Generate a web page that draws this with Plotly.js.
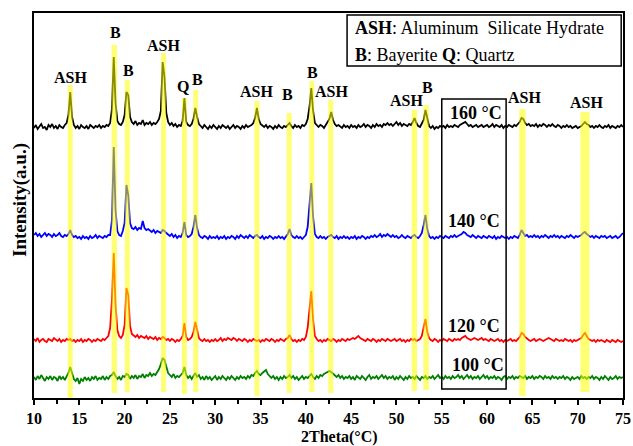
<!DOCTYPE html>
<html>
<head>
<meta charset="utf-8">
<script src="https://cdn.plot.ly/plotly-3.0.1.min.js"></script>
<style>
  html, body { margin: 0; padding: 0; background: #fff; }
  #chart { width: 633px; height: 446px; }
</style>
</head>
<body>
<div id="chart"></div>
<script>
// XRD scans of the hydrothermal products, 2θ from 10° to 75° in 0.2° steps
const scanStart = 10;
const scanStep = 0.2;

const samples = ['160 °C', '140 °C', '120 °C', '100 °C'];
const sampleColors = ['#000000', '#0000ff', '#ff0000', '#008000'];

// Intensity (a.u.) of each scan, one row per 5°
const int160 = [
  9,12,8,11,13, 9,10,7,12,10, 13,9,11,8,12, 10,9,12,14,22, 45,20,12,9,11,
  8,12,10,9,11, 8,12,10,9,11, 10,12,9,11,10, 12,11,14,28,80, 34,16,13,12,15,
  22,45,42,20,15, 13,16,12,14,13, 17,12,14,13,15, 12,14,13,15,18, 26,75,60,24,15,
  12,14,11,13,10, 12,11,16,39,15, 12,11,13,18,29, 20,13,11,9,12, 10,8,11,9,12,
  10,8,11,9,12, 10,9,11,8,10, 12,9,11,10,8, 11,9,12,10,11, 12,14,19,29,18,
  13,11,10,12,9, 11,10,8,11,9, 12,10,9,11,10, 12,14,11,9,12, 10,11,9,12,11,
  13,18,30,49,26, 14,12,10,12,11, 9,12,14,18,25, 17,13,11,12,10, 9,12,10,11,9,
  12,10,11,9,12, 10,11,13,10,12, 11,9,12,10,13, 11,12,10,13,12, 14,12,13,11,13,
  15,12,14,11,13, 12,11,13,12,15, 19,14,11,10,13, 17,27,18,11,9, 11,8,10,9,11,
  10,11,9,12,10, 11,10,12,11,10, 12,13,14,15,13, 11,12,10,11,12, 10,11,12,10,11,
  12,10,11,13,10, 12,11,10,12,9, 11,10,12,11,10, 12,11,13,15,19, 18,14,12,13,11,
  12,11,13,10,12, 11,13,12,10,12, 11,13,11,10,12, 11,9,11,10,12, 10,11,9,10,11,
  9,10,11,13,15, 13,12,10,11,9, 11,10,12,10,9, 11,10,12,9,11, 10,9,11,10,12,
  10
];
const int140 = [
  10,12,9,11,8, 10,12,9,11,10, 8,11,9,10,12, 9,8,10,9,11, 15,10,8,9,7,
  8,6,9,7,8, 6,9,7,8,10, 7,9,8,7,9, 8,10,10,25,98, 35,14,10,9,14,
  22,60,50,22,17, 16,18,15,17,16, 24,17,15,16,14, 13,15,12,14,13, 12,15,14,12,10,
  9,11,8,10,7, 9,8,12,23,10, 8,9,11,18,30, 17,10,8,7,9, 8,6,9,7,8,
  7,9,6,8,7, 9,6,8,7,9, 8,6,9,7,10, 8,7,9,7,10, 8,7,9,10,8,
  7,9,6,8,7, 9,8,6,8,7, 9,7,8,6,8, 11,16,10,8,7, 9,7,8,6,8,
  10,18,40,62,28, 11,8,7,9,7, 8,6,8,9,10, 8,7,9,6,8, 7,9,7,8,6,
  8,7,9,6,8, 7,9,8,6,8, 7,9,8,10,8, 9,11,8,10,9, 11,9,8,10,8,
  9,7,8,10,8, 7,9,8,7,9, 10,8,7,9,12, 20,30,16,9,7, 8,6,8,7,9,
  8,7,9,8,7, 9,8,10,8,9, 10,11,13,12,10, 9,8,10,8,7, 9,8,7,9,8,
  7,9,8,7,9, 6,8,7,9,8, 7,8,6,8,7, 9,8,7,10,15, 12,9,10,8,9,
  8,10,8,9,7, 9,8,10,8,7, 9,8,10,8,9, 7,9,8,7,9, 8,10,8,7,9,
  8,9,10,12,13, 11,9,8,9,7, 9,8,7,9,8, 9,7,8,9,7, 8,9,7,8,10,
  12
];
const int120 = [
  11,9,12,8,10, 11,9,8,11,10, 9,12,10,9,11, 8,10,9,11,10, 11,9,10,8,10,
  9,11,8,10,9, 11,10,8,10,9, 11,10,9,11,10, 12,14,22,50,97, 45,20,14,12,15,
  25,62,55,24,16, 14,13,15,12,14, 13,12,14,11,13, 12,11,13,10,12, 11,13,12,10,11,
  9,11,10,8,10, 9,11,14,27,13, 10,11,13,18,28, 19,12,10,9,11, 9,10,8,10,9,
  11,9,10,12,9, 11,10,12,11,10, 12,11,9,11,10, 9,11,10,8,10, 9,11,10,9,10,
  8,10,9,11,10, 9,11,10,8,10, 9,11,10,9,11, 12,15,11,9,10, 8,10,9,11,10,
  13,22,42,59,30, 14,11,9,10,8, 10,9,11,10,9, 11,10,8,10,9, 11,10,9,11,10,
  11,12,11,13,14, 12,11,10,9,11, 10,9,11,10,8, 10,9,11,10,9, 11,10,9,10,11,
  9,10,11,9,10, 8,10,9,11,10, 11,9,10,11,14, 22,31,18,12,10, 9,11,10,8,10,
  9,11,10,9,11, 10,9,11,10,11, 10,12,13,14,12, 11,10,11,12,11, 10,11,12,10,11,
  10,9,11,10,9, 10,11,9,10,8, 10,9,10,11,9, 10,9,11,13,17, 16,13,11,10,9,
  10,11,9,10,11, 10,9,10,11,12, 11,10,9,11,10, 9,10,9,11,10, 9,10,8,10,9,
  10,11,12,15,17, 14,11,10,9,10, 8,10,9,10,9, 8,10,9,8,10, 9,8,10,9,8,
  9
];
const int100 = [
  11,8,12,9,13, 10,7,11,9,12, 8,11,10,7,12, 9,11,8,12,15, 21,14,9,7,10,
  4,9,7,11,8, 10,7,11,9,12, 8,10,9,12,8, 11,9,12,13,16, 12,9,11,8,12,
  11,14,13,9,12, 10,13,9,12,11, 14,10,13,12,15, 12,14,13,16,19, 24,30,28,20,15,
  13,11,14,10,12, 11,13,15,21,13, 10,12,9,12,15, 11,13,9,11,8, 12,9,11,8,10,
  12,8,11,9,12, 10,8,11,9,12, 10,8,11,9,12, 10,11,9,12,10, 13,12,15,17,14,
  13,15,17,18,14, 12,10,12,9,11, 8,11,9,12,10, 11,13,10,12,9, 11,8,10,12,9,
  11,10,12,14,11, 9,12,10,13,12, 14,15,16,17,16, 14,12,11,13,10, 12,9,11,10,12,
  9,11,8,12,10, 9,12,10,8,11, 13,9,11,10,12, 9,11,13,10,12, 9,11,10,12,8,
  11,9,12,10,8, 11,9,12,10,11, 9,12,10,8,11, 10,12,9,11,10, 12,9,11,13,10,
  11,9,12,10,11, 9,12,10,11,13, 10,12,9,11,13, 10,12,9,11,10, 12,9,11,13,10,
  12,9,11,10,12, 9,11,10,8,11, 12,9,11,10,12, 9,11,10,12,11, 10,12,9,11,10,
  12,9,11,10,12, 11,9,12,10,11, 9,12,10,11,9, 11,10,12,9,11, 10,8,11,9,10,
  11,9,12,10,11, 9,11,10,12,9, 11,10,8,11,9, 12,10,8,11,9, 10,12,9,11,10,
  11
];

// Indexed reflections: 2θ position and phase
const peakPos   = [14.0, 18.86, 20.3, 24.3, 26.6, 27.85, 34.6, 38.15, 40.65, 42.75, 51.97, 53.27, 63.9, 70.8];
const peakPhase = ['ASH', 'B', 'B', 'ASH', 'Q', 'B', 'ASH', 'B', 'B', 'ASH', 'ASH', 'B', 'ASH', 'ASH'];

// ---- presentation settings ----
const stackOffset = [261, 153, 48, 10];           // vertical offset of each scan
const bandWidth   = [0.55, 0.6, 0.55, 0.55, 0.55, 0.55, 0.55, 0.55, 0.55, 0.55, 0.6, 0.6, 0.7, 1.0];
const bandTop     = [313, 353, 318, 345, 300, 308, 297, 285, 317, 298, 288, 293, 289, 286];
const bandBottom  = [0, 5, 6, 6, 4, 6, 2, 5, 6, 5, 7, 8, 2, 6];
const labelY      = [321, 366, 328, 353, 312, 319, 307, 304, 326, 307, 298, 311, 301, 296];
const labelShift  = [0, 1, 1, 0, -1, 2, 0, -2, 1, 1, -8, 1, 2, 2];
const tempLabelX  = [58.8, 58.6, 58.6, 58.95];
const tempLabelY  = [285, 177, 72, 33];

const twoTheta = int160.map((_, i) => +(scanStart + i * scanStep).toFixed(1));
const serif = 'Liberation Serif, Times New Roman, serif';

// plot-area edges in pixels
const plotL = 34, plotR = 623, plotT = 13, plotB = 398;
const toPaperX = px => (px - plotL) / (plotR - plotL);
const toPaperY = py => (plotB - py) / (plotB - plotT);

const scans = [int160, int140, int120, int100];
const traces = scans.map((vals, k) => ({
  type: 'scatter',
  mode: 'lines',
  name: samples[k],
  x: twoTheta,
  y: vals.map(v => v + stackOffset[k]),
  line: { color: sampleColors[k], width: 1.8 },
  hoverinfo: 'skip'
}));

const shapes = peakPos.map((p, i) => ({
  type: 'rect', layer: 'above', xref: 'x', yref: 'y',
  x0: p - bandWidth[i] / 2, x1: p + bandWidth[i] / 2,
  y0: bandBottom[i], y1: bandTop[i],
  fillcolor: 'rgba(255,255,0,0.55)', line: { width: 0 }
}));
// frame around the 55–62° window
shapes.push({
  type: 'rect', layer: 'above', xref: 'x', yref: 'y',
  x0: 55, x1: 62.1, y0: 9, y1: 299,
  line: { color: '#000', width: 1.5 }
});
// phase key box
shapes.push({
  type: 'rect', layer: 'above', xref: 'x', yref: 'y',
  x0: 44.55, x1: 74.8, y0: 332, y1: 383,
  fillcolor: '#fff', line: { color: '#000', width: 1.5 }
});

const annotations = peakPos.map((p, i) => ({
  x: p, y: labelY[i], xref: 'x', yref: 'y', xshift: labelShift[i],
  text: '<b>' + peakPhase[i] + '</b>', showarrow: false,
  xanchor: 'center', yanchor: 'middle',
  font: { family: serif, size: 16, color: '#000' }
}));
samples.forEach((s, k) => annotations.push({
  x: tempLabelX[k], y: tempLabelY[k], xref: 'x', yref: 'y',
  text: '<b>' + s + '</b>', showarrow: false,
  xanchor: 'center', yanchor: 'middle',
  font: { family: serif, size: 18, color: '#000' }
}));
annotations.push({
  x: 45.2, y: 370, xref: 'x', yref: 'y', xanchor: 'left', yanchor: 'middle',
  text: '<b>ASH</b>: Aluminum&nbsp; Silicate Hydrate', showarrow: false,
  font: { family: serif, size: 18, color: '#000' }
});
annotations.push({
  x: 45.2, y: 343, xref: 'x', yref: 'y', xanchor: 'left', yanchor: 'middle',
  text: '<b>B</b>: Bayerite <b>Q</b>: Quartz', showarrow: false,
  font: { family: serif, size: 18, color: '#000' }
});
// axis titles
annotations.push({
  x: toPaperX(339), y: toPaperY(436.5), xref: 'paper', yref: 'paper', showarrow: false,
  text: '<b>2Theta(°C)</b>', xanchor: 'center', yanchor: 'middle',
  font: { family: serif, size: 16, color: '#000' }
});
annotations.push({
  x: toPaperX(20), y: toPaperY(200), xref: 'paper', yref: 'paper',
  showarrow: false, textangle: -90,
  text: '<b>Intensity(a.u.)</b>', xanchor: 'center', yanchor: 'middle',
  font: { family: serif, size: 19, color: '#000' }
});

const layout = {
  width: 633, height: 446,
  margin: { l: plotL, r: 633 - plotR, t: plotT, b: 446 - plotB },
  paper_bgcolor: '#fff', plot_bgcolor: '#fff',
  showlegend: false,
  font: { family: serif, color: '#000' },
  xaxis: {
    range: [10, 75], tickmode: 'linear', tick0: 10, dtick: 5,
    ticks: 'outside', ticklen: 5, tickwidth: 2, tickcolor: '#000',
    showline: true, linewidth: 2, linecolor: '#000', mirror: true,
    showgrid: false, zeroline: false,
    tickfont: { family: serif, size: 16, color: '#000', weight: 'bold' },
    minor: { dtick: 2.5, ticks: 'outside', ticklen: 4, tickwidth: 2, tickcolor: '#000', showgrid: false }
  },
  yaxis: {
    range: [0, 385], showline: true, linewidth: 2, linecolor: '#000', mirror: true,
    showgrid: false, zeroline: false, showticklabels: false, ticks: ''
  },
  shapes: shapes,
  annotations: annotations
};

Plotly.newPlot('chart', traces, layout, { displayModeBar: false, staticPlot: true });
</script>
</body>
</html>
